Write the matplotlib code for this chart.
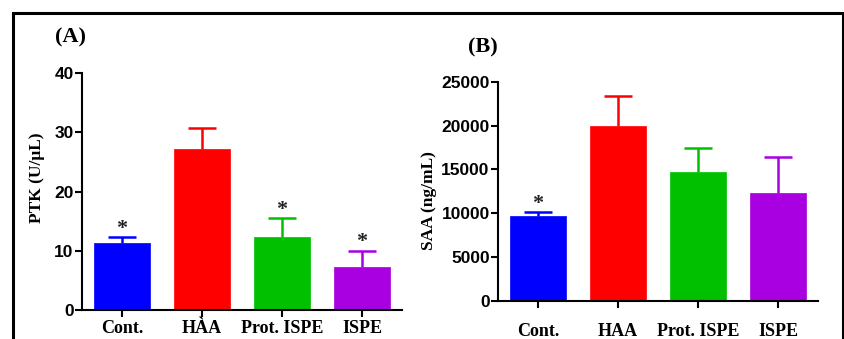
import numpy as np
import matplotlib.pyplot as plt
from matplotlib.patches import Rectangle

# data
groups_a = ['Cont.', 'HÀA', 'Prot. ISPE', 'ISPE']
groups_b = ['Cont.', 'HAA', 'Prot. ISPE', 'ISPE']
ptk = [11.3, 27.2, 12.3, 7.2]
ptk_err = [1.0, 3.6, 3.2, 2.8]
ptk_star = [True, False, True, True]
saa = [9720, 19990, 14670, 12350]
saa_err = [380, 3350, 2770, 4030]
saa_star = [True, False, False, False]

colors = ['#0000ff', '#ff0000', '#00c000', '#a800e0']

serif = ['Liberation Serif', 'DejaVu Serif']
sans = ['Liberation Sans', 'DejaVu Sans']

fig = plt.figure(figsize=(8.45, 3.39), dpi=100)

# outer frame
fig.patches.append(Rectangle((13/845, -0.1), 830/845, 1.1 - 13/339,
                             transform=fig.transFigure, fill=False,
                             edgecolor='black', linewidth=2.2))


def panel(rect, vals, errs, stars, labels, ylabel, yticks, tag, tagpos, xpad):
    ax = fig.add_axes(rect)
    x = np.arange(len(vals))
    ax.bar(x, vals, width=0.7, color=colors, edgecolor=colors, linewidth=0.5, zorder=2)
    errbar = ax.errorbar(x, vals, yerr=[np.zeros(len(vals)), errs], fmt='none',
                         ecolor=colors, elinewidth=1.8, capsize=10, capthick=1.8,
                         zorder=1)
    # only the upper cap, like the original
    caps = errbar[1]
    caps[0].set_visible(False)
    caps[1].set_markeredgecolor('none')
    ax.scatter(x, np.array(vals) + np.array(errs), marker='_', s=400,
               c=colors, linewidths=1.8, zorder=1)
    for xi, v, e, s in zip(x, vals, errs, stars):
        if s:
            ax.annotate('*', (xi, v + e), xytext=(0, -1), textcoords='offset points',
                        ha='center', va='bottom', fontsize=16, fontweight='bold',
                        family=serif, color='#222222')
    ax.set_xlim(-0.5, len(vals) - 0.5)
    ax.set_ylim(yticks[0], yticks[-1])
    ax.set_yticks(yticks)
    ax.set_xticks(x)
    ax.set_xticklabels(labels, family=serif, fontweight='bold', fontsize=13)
    for t in ax.get_yticklabels():
        t.set_family(sans)
        t.set_fontweight('bold')
        t.set_fontsize(12.5)
    ax.set_ylabel(ylabel, family=serif, fontweight='bold', fontsize=12.5)
    ax.spines['top'].set_visible(False)
    ax.spines['right'].set_visible(False)
    ax.spines['left'].set_linewidth(1.5)
    ax.spines['bottom'].set_linewidth(1.5)
    ax.tick_params(axis='y', length=5, width=1.5, pad=1)
    ax.tick_params(axis='x', length=5, width=1.5, pad=xpad)
    fig.text(tagpos[0], tagpos[1], tag, family=serif, fontweight='bold',
             fontsize=16, ha='center', va='center')
    return ax


ax1 = panel([82/845, 1 - 310/339, 320/845, 237/339], ptk, ptk_err, ptk_star,
            groups_a, 'PTK (U/μL)', [0, 10, 20, 30, 40], '(A)',
            (70/845, 1 - 37/339), 2)
ax1.yaxis.set_label_coords(-0.115, 0.56)

ax2 = panel([498/845, 1 - 301/339, 320/845, 219.3/339], saa, saa_err, saa_star,
            groups_b, 'SAA (ng/mL)', [0, 5000, 10000, 15000, 20000, 25000], '(B)',
            (483/845, 1 - 47/339), 11)
ax2.yaxis.set_label_coords(-0.19, 0.46)

fig.savefig('out.png', dpi=100)
